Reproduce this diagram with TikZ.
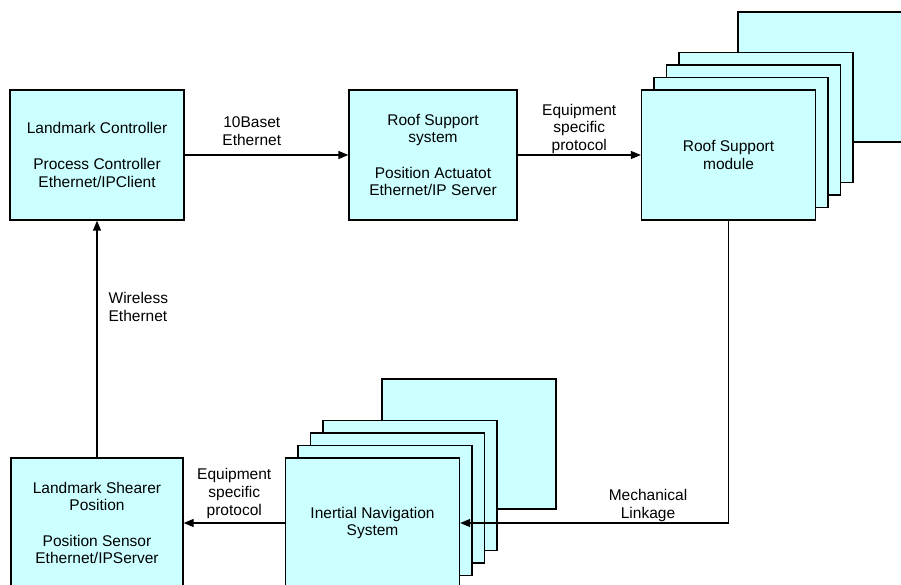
\documentclass[tikz,border=0pt]{standalone}
\usepackage{fontspec}
\setmainfont{Liberation Sans}
\usetikzlibrary{arrows.meta}
\definecolor{boxfill}{HTML}{CCFFFF}

\begin{document}
\begin{tikzpicture}[x=1pt, y=-1pt,
  every node/.style={font=\fontsize{15.5}{17.7}\selectfont, align=center},
  blk/.style={draw, line width=1.3pt, fill=boxfill, minimum width=174pt,
    minimum height=130pt, inner sep=0pt},
  lbl/.style={fill=none, inner sep=0pt},
  arr/.style={line width=1.3pt, -{Triangle[length=10pt,width=8pt]}}]
  \clip (0,0) rectangle (901,585);
  % roof support modules, back to front
  \node (3e) [blk] at (825,77) {};
  \node (3d) [blk] at (766,117.5) {};
  \node (3c) [blk] at ([shift={(-12.5,12.5)}]3d) {};
  \node (3b) [blk] at ([shift={(-12.5,12.5)}]3c) {};
  \node (3) [blk] at ([shift={(-12.5,12.5)}]3b) {Roof Support\\module};
  % inertial navigation units, back to front
  \node (4e) [blk] at (469,444) {};
  \node (4d) [blk] at (410,485.5) {};
  \node (4c) [blk] at ([shift={(-12.5,12.5)}]4d) {};
  \node (4b) [blk] at ([shift={(-12.5,12.5)}]4c) {};
  \node (4) [blk] at ([shift={(-12.5,12.5)}]4b) {Inertial Navigation\\System};
  \node (1) [blk] at (97,155) {Landmark Controller\\[17.7pt]Process Controller\\Ethernet/IPClient};
  \node (2) [blk, minimum width=168pt] at (433,155) {Roof Support\\system\\[17.7pt]Position Actuatot\\Ethernet/IP Server};
  \node (5) [blk, minimum width=172pt] at (97,523) {Landmark Shearer\\Position\\[17.7pt]Position Sensor\\Ethernet/IPServer};
  \path[arr] (1) edge node[lbl, above=9pt, pos=0.41] {10Baset\\Ethernet} (2)
             (2) edge node[lbl, above=0.5pt] {Equipment\\specific\\protocol} (3)
             (4) edge node[lbl, above=4pt] {Equipment\\specific\\protocol} (5)
             (5) edge node[lbl, right=11pt, pos=0.634, align=left] {Wireless\\Ethernet} (1)
             ;
  \draw[arr] (3.south) |- node[lbl, above=0.5pt, pos=0.65] {Mechanical\\Linkage} (4.east);
\end{tikzpicture}
\end{document}
